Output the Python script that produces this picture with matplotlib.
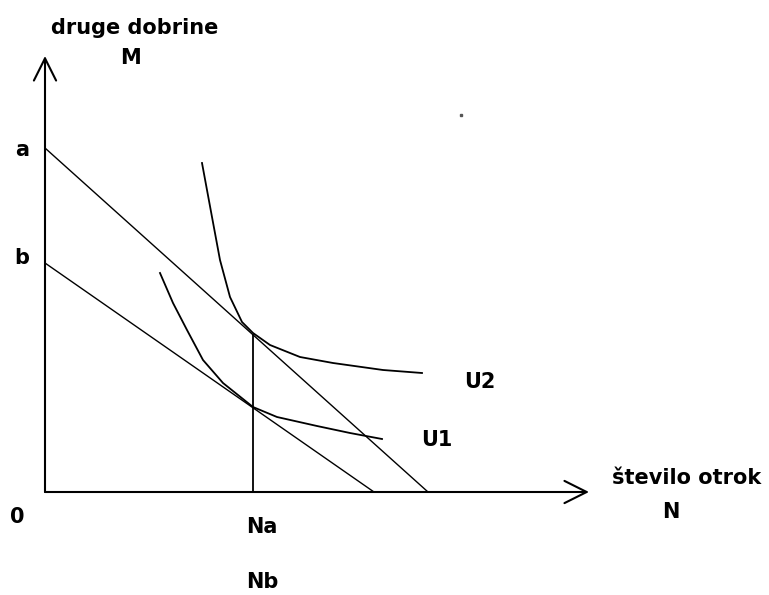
import matplotlib
matplotlib.use('Agg')
import matplotlib.pyplot as plt

# budget lines: intercept on M axis, intercept on N axis
a_M, a_N = 8.6, 9.575
b_M, b_N = 5.725, 8.225
Na = 5.2

# indifference curves
u2_x = [3.925, 4.175, 4.375, 4.625, 4.925, 5.2, 5.625, 6.375, 7.2, 8.45, 9.425]
u2_y = [8.225, 6.875, 5.8, 4.875, 4.25, 3.975, 3.675, 3.375, 3.225, 3.05, 2.975]
u1_x = [2.875, 3.2, 3.55, 3.95, 4.45, 5.2, 5.8, 6.8, 7.625, 8.425]
u1_y = [5.475, 4.725, 4.05, 3.3, 2.725, 2.125, 1.875, 1.65, 1.475, 1.325]

x_max = 13.6
y_max = 10.9

fig = plt.figure(figsize=(7.69, 5.95), dpi=100)
ax = fig.add_axes([0, 0, 1, 1])
ax.set_xlim(-1.125, 18.1)
ax.set_ylim(-2.575, 12.3)
ax.axis('off')

# axes with open arrow heads
arrow = dict(arrowstyle='->, head_length=0.8, head_width=0.4', lw=1.5,
             color='black', mutation_scale=20, shrinkA=0, shrinkB=0)
ax.annotate('', xy=(0, y_max), xytext=(0, 0), arrowprops=arrow)
ax.annotate('', xy=(x_max, 0), xytext=(0, 0), arrowprops=arrow)

# budget lines
ax.plot([0, a_N], [a_M, 0], color='black', lw=1.0)
ax.plot([0, b_N], [b_M, 0], color='black', lw=1.0)

# vertical at Na up to the tangency with line a
ax.plot([Na, Na], [0, a_M * (1 - Na / a_N)], color='black', lw=1.3)

ax.plot(u2_x, u2_y, color='black', lw=1.3)
ax.plot(u1_x, u1_y, color='black', lw=1.3)

# stray dot in the original
ax.plot([10.4], [9.425], marker='s', ms=2, color='#555555')

fs = 15
txt = dict(fontsize=fs, fontweight='bold', ha='center', va='center',
           family='DejaVu Sans')
ax.text(2.25, 11.6, 'druge dobrine', **txt)
ax.text(2.125, 10.85, 'M', **txt)
ax.text(-0.575, 8.55, 'a', **txt)
ax.text(-0.575, 5.85, 'b', **txt)
ax.text(-0.7, -0.625, '0', **txt)
ax.text(5.425, -0.875, 'Na', **txt)
ax.text(5.425, -2.25, 'Nb', **txt)
ax.text(10.875, 2.75, 'U2', **txt)
ax.text(9.8, 1.3, 'U1', **txt)
ax.text(16.05, 0.35, 'število otrok', **txt)
ax.text(15.65, -0.5, 'N', **txt)

fig.savefig('out.png', dpi=100)
